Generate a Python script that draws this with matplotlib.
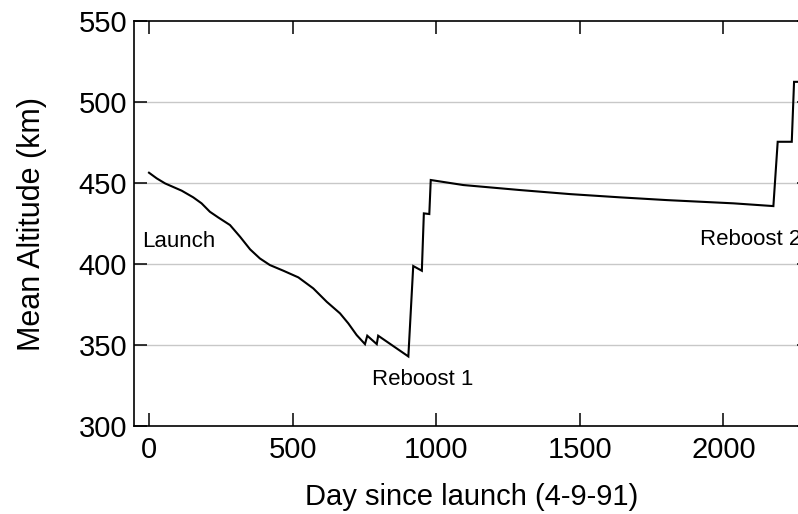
import matplotlib
matplotlib.use("Agg")
import matplotlib.pyplot as plt

plt.rcParams['font.family'] = ['Liberation Sans', 'DejaVu Sans']

# Mean orbital altitude over the mission
days = [0, 27, 56, 114, 154, 183, 212, 241, 282, 317, 352, 386, 421, 468, 520,
        572, 619, 665, 694, 723, 752, 760, 793, 798, 903, 920, 950, 957, 976,
        981, 1094, 1292, 1466, 1640, 1803, 2035, 2174, 2189, 2238, 2246, 2300]
altitude = [456.4, 452.9, 449.8, 445.3, 441.2, 437.5, 432.3, 428.8, 424.1, 416.9,
            409.1, 403.5, 399.4, 395.9, 391.8, 385.0, 376.7, 369.6, 363.4, 356.2,
            350.6, 355.8, 350.6, 355.8, 343.0, 398.8, 395.9, 431.3, 430.9, 451.9,
            448.8, 445.7, 443.2, 441.2, 439.5, 437.5, 435.8, 475.5, 475.5, 512.5,
            512.5]

xticks = [0, 500, 1000, 1500, 2000]
yticks = [300, 350, 400, 450, 500, 550]

events = ["Launch", "Reboost 1", "Reboost 2"]
event_day = [-24, 776, 1918]
event_alt = [414, 328.5, 415]

fig = plt.figure(figsize=(7.98, 5.14), dpi=100)
ax = fig.add_axes([0.168, 0.171, 0.8465, 0.788])

ax.plot(days, altitude, color='black', lw=1.5, solid_joinstyle='miter', zorder=3)

ax.set_xlim(-52, 2300)
ax.set_ylim(300, 550)
ax.set_xticks(xticks)
ax.set_yticks(yticks)

for y in yticks[1:-1]:
    ax.axhline(y, color='#c8c8c8', lw=1.0, zorder=1)

for name, d, a in zip(events, event_day, event_alt):
    ax.text(d, a, name, fontsize=16, ha='left', va='center', color='black')

ax.tick_params(direction='in', length=9.5, width=1.1, top=True, right=True,
               labelsize=21, pad=5)
ax.tick_params(axis='x', pad=7)
for s in ax.spines.values():
    s.set_linewidth(1.2)

ax.set_xlabel("Day since launch (4-9-91)", fontsize=21, labelpad=14)
ax.set_ylabel("Mean Altitude (km)", fontsize=22, labelpad=23)

fig.savefig("out.png", dpi=100)
